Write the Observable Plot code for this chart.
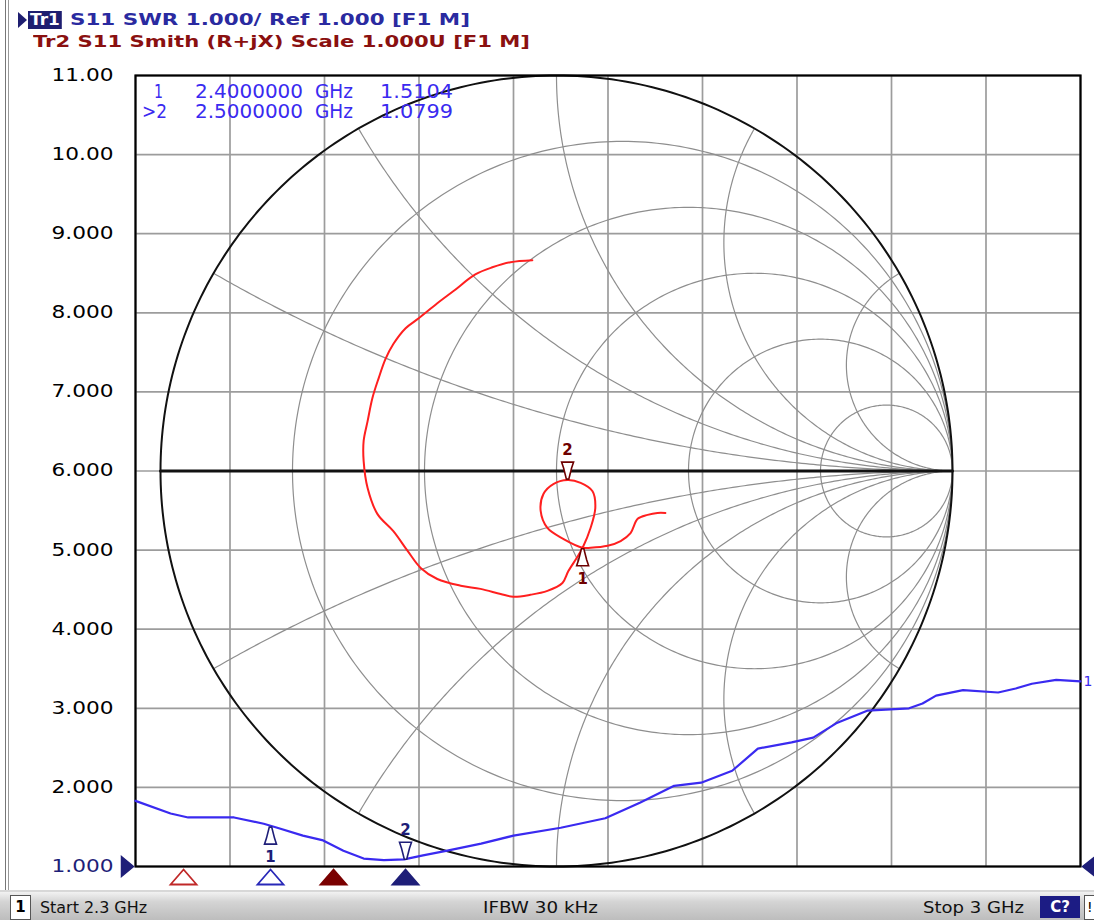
<!DOCTYPE html>
<html><head><meta charset="utf-8">
<script src="https://cdn.jsdelivr.net/npm/d3@7"></script>
<script src="https://cdn.jsdelivr.net/npm/@observablehq/plot@0.6"></script>
<style>
body{margin:0;background:#fff;font-family:"DejaVu Sans",sans-serif;}
#wrap{position:relative;width:1094px;height:920px;overflow:hidden;background:#fff;}
#chart{position:absolute;left:0;top:0;}
.abs{position:absolute;white-space:pre;transform-origin:left top;}
.hdr{font-weight:bold;font-size:16px;line-height:18px;}
.ro{font-size:19px;line-height:20px;color:#3a2af0;}
.sb{font-size:15px;line-height:18px;color:#111;}
</style></head><body>
<div id="wrap">
  <div id="chart"></div>
  <div class="abs" style="left:5px;top:0;width:1px;height:893px;background:#777"></div>
  <div class="abs" style="left:8px;top:0;width:1px;height:893px;background:#999"></div>
  <div class="abs" style="left:18px;top:12px;width:0;height:0;border-top:8px solid transparent;border-bottom:8px solid transparent;border-left:9px solid #1e1e70"></div>
  <div class="abs hdr" id="tr1box" style="left:28px;top:11px;background:#1e1e70;color:#fff;padding:0 2px">Tr1</div>
  <div class="abs hdr" id="h1" style="left:70px;top:11px;color:#2a2aa0"></div>
  <div class="abs hdr" id="h2" style="left:33px;top:33px;color:#8a1010"></div>
  <div id="readout"></div>
  <div class="abs" style="left:0;top:890px;width:1094px;height:2px;background:#d8d8d8"></div>
  <div class="abs" style="left:0;top:892px;width:1094px;height:28px;background:linear-gradient(to bottom,#f2f2f2 0%,#d4d4d4 35%,#bdbdbd 100%)"></div>
  <div class="abs" style="left:10px;top:895px;width:19px;height:23px;background:#fff;border:1px solid #555;font-size:15px;font-weight:bold;text-align:center;line-height:23px">1</div>
  <div class="abs sb" id="sStart" style="left:40px;top:899px"></div>
  <div class="abs sb" id="sIfbw" style="left:483px;top:899px"></div>
  <div class="abs sb" id="sStop" style="left:923px;top:899px"></div>
  <div class="abs" style="left:1040px;top:896px;width:40px;height:22px;background:#1c1c84;color:#fff;font-size:15px;font-weight:bold;text-align:center;line-height:22px">C?</div>
  <div class="abs" style="left:1084px;top:895px;width:12px;height:23px;background:#fff;border:1px solid #555;font-size:14px;line-height:23px;padding-left:2px">!</div>
</div>
<script>
// ---------------- data ----------------
const headerTr1 = "S11 SWR 1.000/ Ref 1.000 [F1 M]";
const headerTr2 = "Tr2 S11 Smith (R+jX) Scale 1.000U [F1 M]";
const statusStart = "Start 2.3 GHz";
const statusIfbw = "IFBW 30 kHz";
const statusStop = "Stop 3 GHz";

const freqDomainGHz = [2.3, 3.0];
const xGridGHz = [2.3, 2.37, 2.44, 2.51, 2.58, 2.65, 2.72, 2.79, 2.86, 2.93, 3.0];
const yTicks = [1, 2, 3, 4, 5, 6, 7, 8, 9, 10, 11];
const yTickLabels = ["1.000", "2.000", "3.000", "4.000", "5.000", "6.000", "7.000", "8.000", "9.000", "10.00", "11.00"];

// Tr1: SWR vs frequency
const swrFreqGHz = [2.300, 2.326, 2.339, 2.373, 2.395, 2.405, 2.424, 2.439, 2.454, 2.469, 2.484, 2.499, 2.513, 2.531, 2.556, 2.580, 2.615, 2.648, 2.674, 2.699, 2.719, 2.742, 2.761, 2.786, 2.802, 2.819, 2.842, 2.873, 2.883, 2.893, 2.913, 2.939, 2.952, 2.964, 2.982, 3.000];
const swrValues  = [1.83, 1.67, 1.62, 1.62, 1.54, 1.49, 1.39, 1.33, 1.20, 1.10, 1.08, 1.09, 1.14, 1.20, 1.29, 1.39, 1.49, 1.61, 1.81, 2.02, 2.06, 2.21, 2.49, 2.57, 2.63, 2.81, 2.97, 3.00, 3.06, 3.16, 3.23, 3.20, 3.25, 3.31, 3.36, 3.34];

// Tr2: S11 reflection coefficient (real, imaginary)
const s11Re = [0.275, 0.255, 0.230, 0.205, 0.187, 0.162, 0.129, 0.086, 0.066, 0.018, -0.023, -0.040, -0.033, -0.008, 0.028, 0.061, 0.091, 0.098, 0.086, 0.066, 0.053, 0.030, 0.015, -0.023, -0.066, -0.109, -0.141, -0.192, -0.242, -0.301, -0.343, -0.376, -0.412, -0.452, -0.477, -0.487, -0.487, -0.477, -0.465, -0.449, -0.432, -0.412, -0.381, -0.348, -0.301, -0.260, -0.205, -0.162, -0.116, -0.061];
const s11Im = [-0.106, -0.106, -0.111, -0.121, -0.157, -0.177, -0.189, -0.194, -0.194, -0.172, -0.144, -0.101, -0.058, -0.033, -0.023, -0.030, -0.051, -0.093, -0.144, -0.194, -0.217, -0.253, -0.283, -0.303, -0.313, -0.318, -0.311, -0.298, -0.290, -0.273, -0.245, -0.202, -0.152, -0.109, -0.043, 0.025, 0.076, 0.126, 0.184, 0.235, 0.283, 0.321, 0.361, 0.386, 0.424, 0.455, 0.497, 0.515, 0.528, 0.533];

// markers
const markerLabels = ["1", "2"];
const markerFreqGHz = [2.4, 2.5];
const markerSwr = [1.5104, 1.0799];
const markerFreqText = ["2.4000000", "2.5000000"];
const markerValText = ["1.5104", "1.0799"];
const markerS11Re = [0.066, 0.028];
const markerS11Im = [-0.194, -0.023];
const tr2IndicatorGHz = [2.3356, 2.4467];
const tr1IndicatorGHz = [2.4, 2.5];

// Smith grid definition
const smithR = [0.2, 0.5, 1, 2, 5];
const smithXAnglesDeg = [30, 60, 90, 120, 150];

// ---------------- layout constants ----------------
const SMITH_CX = 2.3 + 0.7 * (421 / 945), SMITH_RX = 0.7 * (396 / 945);
const SMITH_CY = 6, SMITH_RY = 5;
const navy = "#1e1e78", blue = "#3a2af0", red = "#ff1f1f", darkRed = "#6e0000";
const smithPt = (re, im) => ({x: SMITH_CX + re * SMITH_RX, y: SMITH_CY + im * SMITH_RY});

// Smith grid geometry
const gridLines = [];
smithR.forEach(r => {
  const c = r / (1 + r), rad = 1 / (1 + r);
  for (let k = 0; k <= 360; k++) {
    const t = 2 * Math.PI * k / 360;
    gridLines.push({id: "r" + r, ...smithPt(c + rad * Math.cos(t), rad * Math.sin(t))});
  }
});
smithXAnglesDeg.forEach(a => {
  const th = a * Math.PI / 180, rho = Math.tan(th / 2);
  let p0 = Math.atan2(Math.sin(th) - rho, Math.cos(th) - 1);
  if (p0 < 0) p0 += 2 * Math.PI;
  const p1 = 1.5 * Math.PI;
  [1, -1].forEach(s => {
    for (let k = 0; k <= 200; k++) {
      const p = p0 + (p1 - p0) * k / 200;
      gridLines.push({id: "x" + a + "_" + s, ...smithPt(1 + rho * Math.cos(p), s * (rho + rho * Math.sin(p)))});
    }
  });
});
const outer = d3.range(0, 361).map(k => smithPt(Math.cos(k * Math.PI / 180), Math.sin(k * Math.PI / 180)));
const realAxis = [smithPt(-1, 0), smithPt(1, 0)];

const swrData = swrFreqGHz.map((f, i) => ({f, swr: swrValues[i]}));
const s11Data = s11Re.map((re, i) => smithPt(re, s11Im[i]));
const blueMarkers = markerFreqGHz.map((f, i) => ({f, swr: markerSwr[i], label: markerLabels[i]}));
const redMarkers = markerS11Re.map((re, i) => ({...smithPt(re, markerS11Im[i]), label: markerLabels[i]}));
const indicators = [
  {f: tr2IndicatorGHz[0], stroke: "#c02828", fill: "white"},
  {f: tr1IndicatorGHz[0], stroke: "#2828b8", fill: "white"},
  {f: tr2IndicatorGHz[1], stroke: "#7a0000", fill: "#7a0000"},
  {f: tr1IndicatorGHz[1], stroke: navy, fill: navy}
];

// custom symbols
const flatTri = {draw(c) { c.moveTo(0, -8); c.lineTo(13, 7); c.lineTo(-13, 7); c.closePath(); }};
const bellUp = {draw(c) { c.moveTo(-1.2, 1); c.lineTo(1.2, 1); c.lineTo(4, 12); c.lineTo(6, 18); c.lineTo(-6, 18); c.lineTo(-4, 12); c.closePath(); }};
const bellDown = {draw(c) { c.moveTo(-1.2, -1); c.lineTo(1.2, -1); c.lineTo(4, -12); c.lineTo(6, -18); c.lineTo(-6, -18); c.lineTo(-4, -12); c.closePath(); }};
const ptrRight = {draw(c) { c.moveTo(-2, 0); c.lineTo(-14, -10); c.lineTo(-14, 10); c.closePath(); }};
const ptrLeft = {draw(c) { c.moveTo(2, 0); c.lineTo(16, -11); c.lineTo(16, 11); c.closePath(); }};

const plot = Plot.plot({
  width: 1094, height: 890,
  marginLeft: 135, marginRight: 14, marginTop: 75, marginBottom: 24,
  x: {domain: freqDomainGHz, axis: null},
  y: {domain: [yTicks[0], yTicks[yTicks.length - 1]], axis: null},
  color: {type: "identity"},
  style: {background: "transparent", fontFamily: "DejaVu Sans", color: "black", overflow: "visible"},
  marks: [
    Plot.ruleX(xGridGHz, {stroke: "#9c9c9c", strokeWidth: 1.7}),
    Plot.ruleY(yTicks, {stroke: "#9c9c9c", strokeWidth: 1.7}),
    Plot.line(gridLines, {x: "x", y: "y", z: "id", stroke: "#8e8e8e", strokeWidth: 1.2}),
    Plot.line(outer, {x: "x", y: "y", stroke: "#111", strokeWidth: 2}),
    Plot.line(realAxis, {x: "x", y: "y", stroke: "#111", strokeWidth: 3}),
    Plot.frame({stroke: "#000", strokeWidth: 2.2}),
    Plot.axisY({ticks: yTicks, tickFormat: d => yTickLabels[yTicks.indexOf(d)], tickSize: 0, tickPadding: 22, fontSize: 17, fill: "black"}),
    Plot.line(s11Data, {x: "x", y: "y", stroke: red, strokeWidth: 2, curve: "catmull-rom"}),
    Plot.line(swrData, {x: "f", y: "swr", stroke: blue, strokeWidth: 2.2}),
    // marker glyphs on traces
    Plot.dot([blueMarkers[0]], {x: "f", y: "swr", symbol: bellUp, r: 5, stroke: navy, fill: "white", strokeWidth: 1.6}),
    Plot.text([blueMarkers[0]], {x: "f", y: "swr", text: "label", dy: 31, fill: navy, fontSize: 15, fontWeight: "bold"}),
    Plot.dot([blueMarkers[1]], {x: "f", y: "swr", symbol: bellDown, r: 5, stroke: navy, fill: "white", strokeWidth: 1.6}),
    Plot.text([blueMarkers[1]], {x: "f", y: "swr", text: "label", dy: -30, fill: navy, fontSize: 15, fontWeight: "bold"}),
    Plot.dot([redMarkers[0]], {x: "x", y: "y", symbol: bellUp, r: 5, stroke: darkRed, fill: "white", strokeWidth: 1.6}),
    Plot.text([redMarkers[0]], {x: "x", y: "y", text: "label", dy: 31, fill: darkRed, fontSize: 15, fontWeight: "bold"}),
    Plot.dot([redMarkers[1]], {x: "x", y: "y", symbol: bellDown, r: 5, stroke: darkRed, fill: "white", strokeWidth: 1.6}),
    Plot.text([redMarkers[1]], {x: "x", y: "y", text: "label", dy: -30, fill: darkRed, fontSize: 15, fontWeight: "bold"}),
    // trace end label
    Plot.text([swrData[swrData.length - 1]], {x: "f", y: "swr", text: () => "1", dx: 3, textAnchor: "start", fill: blue, fontSize: 14}),
    // marker indicators below the grid
    Plot.dot(indicators, {x: "f", frameAnchor: "bottom", dy: 11, symbol: flatTri, r: 5, stroke: "stroke", fill: "fill", strokeWidth: 1.8}),
    Plot.dot([0], {frameAnchor: "bottom-left", symbol: ptrRight, r: 5, fill: navy, stroke: navy}),
    Plot.dot([0], {frameAnchor: "bottom-right", symbol: ptrLeft, r: 5, fill: navy, stroke: navy})
  ]
});
document.getElementById("chart").appendChild(plot);

// style y tick labels
d3.select(plot).selectAll('g[aria-label="y-axis tick label"] text').each(function() {
  const t = d3.select(this);
  t.attr("textLength", 62).attr("lengthAdjust", "spacingAndGlyphs");
  if (t.text() === "1.000") t.attr("fill", navy);
});

// header / status / readout text
document.getElementById("h1").textContent = headerTr1;
document.getElementById("h2").textContent = headerTr2;
document.getElementById("sStart").textContent = statusStart;
document.getElementById("sIfbw").textContent = statusIfbw;
document.getElementById("sStop").textContent = statusStop;

const ro = document.getElementById("readout");
const roCols = [
  {vals: [" " + markerLabels[0], ">" + markerLabels[1]], left: [154, 142], w: [9, 25]},
  {vals: markerFreqText, left: [195, 195], w: [108, 108]},
  {vals: ["GHz", "GHz"], left: [315, 315], w: [38, 38]},
  {vals: markerValText, left: [380, 380], w: [73, 73]}
];
const roTops = [81, 101];
const fits = [];
roCols.forEach(col => col.vals.forEach((v, i) => {
  const s = document.createElement("div");
  s.className = "abs ro";
  s.style.left = col.left[i] + "px";
  s.style.top = roTops[i] + "px";
  s.textContent = v.trim();
  ro.appendChild(s);
  fits.push([s, col.w[i]]);
}));
fits.push([document.getElementById("h1"), 400]);
fits.push([document.getElementById("h2"), 497]);
fits.push([document.getElementById("tr1box"), 34]);
fits.push([document.getElementById("sStart"), 107]);
fits.push([document.getElementById("sIfbw"), 115]);
fits.push([document.getElementById("sStop"), 101]);
function doFit() {
  fits.forEach(([el, w]) => {
    el.style.transform = "none";
    const r = el.getBoundingClientRect().width;
    if (r > 0) el.style.transform = `scaleX(${w / r})`;
  });
}
doFit();
if (document.fonts && document.fonts.ready) document.fonts.ready.then(doFit);
</script>
</body></html>
